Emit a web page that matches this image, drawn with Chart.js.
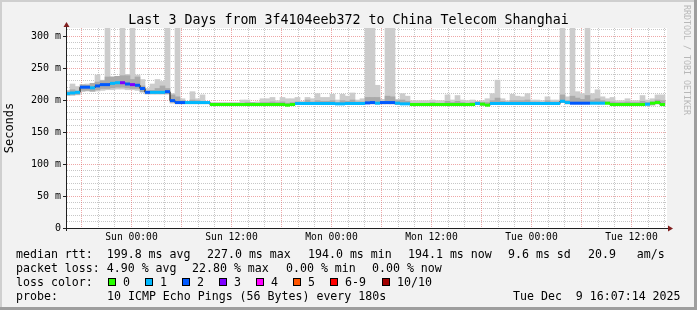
<!DOCTYPE html>
<html><head><meta charset="utf-8">
<script src="https://cdn.jsdelivr.net/npm/chart.js@4/dist/chart.umd.min.js"></script>
<style>html,body{margin:0;padding:0;background:#f2f2f2;}canvas{display:block;}</style>
</head><body>
<canvas id="c" width="697" height="310" style="width:697px;height:310px"></canvas>
<script>
const chartTitle = 'Last 3 Days from 3f4104eeb372 to China Telecom Shanghai';
// time axis: hours relative to Sun 00:00, one consolidated block every 0.6 h (36 min)
const startHour = -7.68;
const stepHours = 0.6;
const axisMinHour = -7.74;
const axisMaxHour = 64.26;

// median RTT per block (ms)
const median = [
 210,211,212,220,220,219,222,224,224,226,
 227,227,225,224,223,218,212,212,212,212,
 213,199,196,196,196,196,196,196,196,193,
 193,193,193,193,193,193,193,193,193,193,
 193,193,193,193,192,193,194.5,194.5,194.5,194.5,
 194.5,194.5,194.5,194.5,194,194,194.5,194.5,194.5,194.5,
 195.5,196,195,196,196,196,195,194,194,193,
 193,193,193,193,193,193,193,193,193,193,
 193,193,194.5,193.5,192,194.5,194.5,194.5,194.5,194.5,
 194.5,194.5,194.5,194.5,194.5,194.5,194.5,194.5,194.5,198,
 196,195,195,195,195,195,195,195,195,193,
 193,193,193,193,193,193,193.5,195,196,193
];
// loss class per block (index into lossColors)
const loss = [
 1,1,1,2,2,1,2,2,2,1,
 1,3,2,3,2,2,2,1,1,1,
 2,2,2,2,1,1,1,1,1,0,
 0,0,0,0,0,0,0,0,0,0,
 0,0,0,0,0,0,1,1,1,1,
 1,1,1,1,1,1,1,1,1,1,
 2,2,1,2,2,2,1,1,1,0,
 0,0,0,0,0,0,0,0,0,0,
 0,0,1,0,0,1,1,1,1,1,
 1,1,1,1,1,1,1,1,1,1,
 1,2,2,2,2,1,1,1,0,0,
 0,0,0,0,0,0,1,0,0,0
];
// light smoke band (min .. max of pings)
const smokeLo = [
 207,207,208,213,214,213,214,215,216,216,
 217,217,216,216,215,212,209,209,209,209,
 209,195,194,194,194,194,194,194,194,192,
 192,192,192,192,192,192,192,192,192,192,
 192,192,192,192,191,192,193,193,193,193,
 193,193,193,193,193,193,193,193,193,193,
 194,194,194,194,194,194,193,193,193,192,
 192,192,192,192,192,192,192,192,192,192,
 192,192,193,192,191,193,193,193,193,193,
 193,193,193,193,193,193,193,193,193,196,
 194,194,194,194,194,194,194,194,194,192,
 192,192,192,192,192,192,192,193,194,192
];
const smokeHi = [
 215,225,221,218,225,221,239,231,312,236,
 236,312,240,312,239,232,218,225,232,229,
 312,210,312,202,198,213,202,208,197,196,
 196,196,196,196,196,200,200,196,197,202,
 202,204,199,204,202,202,204,198,204,202,
 210,204,204,209,200,209,206,211,200,202,
 312,312,223,201,312,312,201,210,206,199,
 199,199,199,200,199,199,208,200,207,200,
 199,200,198,199,202,210,231,202,199,209,
 206,205,210,200,200,199,205,200,200,312,
 205,312,213,210,312,210,216,205,202,204,
 199,199,202,199,199,207,200,202,208,208
];
// darker smoke band (inner pings)
const darkLo = [
 208,209,209,215,215,214,216,218,218,219,
 220,220,219,218,218,213,210,210,210,210,
 210,197,195,195,195,195,195,195,195,192,
 192,192,192,192,192,192,192,192,192,192,
 192,192,192,192,191,192,193,193,193,193,
 193,193,193,193,193,193,193,193,193,193,
 194,194,194,194,194,194,193,193,193,192,
 192,192,192,192,192,192,192,192,192,192,
 192,192,193,192,191,193,193,193,193,193,
 193,193,193,193,193,193,193,193,193,196,
 194,194,194,194,194,194,194,194,194,192,
 192,192,192,192,192,192,192,192,194,192
];
const darkHi = [
 213,216,214,224,223,226,228,230,236,236,
 237,238,238,232,236,222,214,215,218,222,
 218,208,205,199,198,200,199,198,197,195,
 195,195,195,195,195,195,196,196,195,196,
 196,197,196,197,195,196,197,196,200,197,
 199,198,198,199,196,199,198,200,197,197,
 204,204,204,198,206,205,199,200,198,195,
 195,195,195,196,195,195,198,196,198,196,
 195,196,197,196,196,199,203,198,197,199,
 199,199,200,197,197,196,199,197,197,208,
 199,206,203,201,207,200,202,199,197,197,
 196,196,197,196,196,198,196,197,200,199
];

const lossColors = ['#26ff00','#00b8ff','#0059ff','#7e00ff','#ff00ff','#ff5500','#ff0000','#a10000'];
const lossLabels = ['0','1','2','3','4','5','6-9','10/10'];
const xTickHours = [0,12,24,36,48,60];
const xTickLabels = ['Sun 00:00','Sun 12:00','Mon 00:00','Mon 12:00','Tue 00:00','Tue 12:00'];
const yTickValues = [0,50,100,150,200,250,300];
const yTickLabels = ['0','50 m','100 m','150 m','200 m','250 m','300 m'];
const xMinorStep = 2, xMajorStep = 6, yMinorStep = 10, yMajorStep = 50;

const rttStats = ['median rtt:  199.8 ms avg','227.0 ms max','194.0 ms min','194.1 ms now','9.6 ms sd','20.9   am/s'];
const lossStats = ['packet loss: 4.90 % avg','22.80 % max','0.00 % min','0.00 % now'];
const probeText = ['probe:','10 ICMP Echo Pings (56 Bytes) every 180s','Tue Dec  9 16:07:14 2025'];

const hours = median.map((_, i) => startHour + stepHours * i);
const medianPts = median.map((v, i) => ({x: hours[i], y: v}));
const lightPts = smokeLo.map((v, i) => ({x: hours[i], y: [v, smokeHi[i]]}));
const darkPts = darkLo.map((v, i) => ({x: hours[i], y: [v, darkHi[i]]}));

const MONO = 'DejaVu Sans Mono';
const minorGrid = 'rgba(143,143,143,0.5)';
const majorGrid = 'rgba(222,79,79,0.5)';

const frame = {
  id: 'frame',
  beforeDraw(chart) {
    const ctx = chart.ctx, W = chart.width, H = chart.height, a = chart.chartArea;
    ctx.save();
    ctx.fillStyle = '#f2f2f2'; ctx.fillRect(0, 0, W, H);
    ctx.fillStyle = '#cfcfcf'; ctx.fillRect(0, 0, W, 2); ctx.fillRect(0, 0, 2, H);
    ctx.fillStyle = '#9e9e9e'; ctx.fillRect(0, H - 3, W, 3); ctx.fillRect(W - 3, 0, 3, H);
    ctx.fillStyle = '#ffffff'; ctx.fillRect(a.left, a.top, a.right - a.left, a.bottom - a.top);
    ctx.restore();
  },
  beforeDatasetsDraw(chart) {
    const ctx = chart.ctx, a = chart.chartArea, xs = chart.scales.x, ys = chart.scales.y;
    ctx.save();
    ctx.lineWidth = 1;
    ctx.setLineDash([1, 1]);
    for (let v = yMinorStep; v <= ys.max; v += yMinorStep) {
      const py = Math.floor(ys.getPixelForValue(v)) + 0.5;
      ctx.strokeStyle = (v % yMajorStep === 0) ? majorGrid : minorGrid;
      ctx.beginPath(); ctx.moveTo(a.left, py); ctx.lineTo(a.right, py); ctx.stroke();
    }
    const h0 = Math.ceil(xs.min / xMinorStep) * xMinorStep;
    for (let h = h0; h <= xs.max; h += xMinorStep) {
      const px = Math.floor(xs.getPixelForValue(h)) + 0.5;
      ctx.strokeStyle = (h % xMajorStep === 0) ? majorGrid : minorGrid;
      ctx.beginPath(); ctx.moveTo(px, a.top); ctx.lineTo(px, a.bottom); ctx.stroke();
    }
    ctx.restore();
  },
  afterDatasetsDraw(chart) {
    const ctx = chart.ctx, a = chart.chartArea;
    ctx.save();
    ctx.strokeStyle = '#1f1f1f'; ctx.lineWidth = 1;
    ctx.beginPath();
    ctx.moveTo(a.left - 0.5, a.bottom + 3); ctx.lineTo(a.left - 0.5, a.top - 3);
    ctx.moveTo(a.left - 4, a.bottom + 0.5); ctx.lineTo(a.right + 2, a.bottom + 0.5);
    ctx.stroke();
    ctx.fillStyle = '#801f1f';
    ctx.beginPath();
    ctx.moveTo(a.left - 3.5, a.top - 1); ctx.lineTo(a.left + 2.5, a.top - 1); ctx.lineTo(a.left - 0.5, a.top - 6); ctx.closePath(); ctx.fill();
    ctx.beginPath();
    ctx.moveTo(a.right + 1, a.bottom - 2.5); ctx.lineTo(a.right + 1, a.bottom + 3.5); ctx.lineTo(a.right + 6, a.bottom + 0.5); ctx.closePath(); ctx.fill();
    ctx.restore();
  },
  afterDraw(chart) {
    const ctx = chart.ctx, W = chart.width;
    ctx.save();
    ctx.fillStyle = '#000';
    ctx.textBaseline = 'alphabetic';
    ctx.font = '13.3px "' + MONO + '"';
    ctx.textAlign = 'center';
    ctx.fillText(chartTitle, W / 2, 23.5);
    ctx.textAlign = 'left';
    ctx.font = '11.6px "' + MONO + '"';
    const r1x = [16,207,308,408,508,588];
    rttStats.forEach((t, i) => ctx.fillText(t, r1x[i], 258));
    const r2x = [16,192,286,372];
    lossStats.forEach((t, i) => ctx.fillText(t, r2x[i], 272));
    ctx.fillText('loss color:', 16, 286);
    const sqx = [108,145,182,219,256,293,330,382];
    lossLabels.forEach((t, i) => {
      ctx.fillStyle = lossColors[i];
      ctx.fillRect(sqx[i], 278, 8, 8);
      ctx.strokeStyle = '#000'; ctx.lineWidth = 1;
      ctx.strokeRect(sqx[i] + 0.5, 278.5, 7, 7);
      ctx.fillStyle = '#000';
      ctx.fillText(t, sqx[i] + 15, 286);
    });
    const r4x = [16,107,513];
    probeText.forEach((t, i) => ctx.fillText(t, r4x[i], 300));
    ctx.translate(686, 5);
    ctx.rotate(Math.PI / 2);
    ctx.fillStyle = '#b8b8b8';
    ctx.font = '8.3px "' + MONO + '"';
    ctx.textBaseline = 'middle';
    ctx.fillText('RRDTOOL / TOBI OETIKER', 0, 0);
    ctx.restore();
  }
};

const barCommon = {type: 'bar', grouped: false, barPercentage: 1, categoryPercentage: 1, borderWidth: 0};

new Chart(document.getElementById('c'), {
  type: 'bar',
  data: {
    datasets: [
      {type: 'line', label: 'median', data: medianPts, showLine: false, pointStyle: 'line',
       pointRadius: 2.5, pointHoverRadius: 2.5, pointBorderWidth: 3,
       pointBorderColor: loss.map(c => lossColors[c]), order: 1},
      {type: 'line', label: 'step', data: medianPts, stepped: 'middle', borderColor: '#000',
       borderWidth: 1, pointRadius: 0, order: 2},
      Object.assign({label: 'smoke-dark', data: darkPts, backgroundColor: '#aaaaaa', order: 3}, barCommon),
      Object.assign({label: 'smoke-light', data: lightPts, backgroundColor: '#cccccc', order: 4}, barCommon)
    ]
  },
  options: {
    responsive: false,
    animation: false,
    events: [],
    layout: {padding: {top: 28, right: 30, left: 0, bottom: 0}},
    plugins: {legend: {display: false}, tooltip: {enabled: false}, title: {display: false}},
    scales: {
      x: {
        type: 'linear', min: axisMinHour, max: axisMaxHour, offset: false,
        afterBuildTicks: s => { s.ticks = xTickHours.map(v => ({value: v})); },
        afterFit: s => { s.height = 82; },
        ticks: {autoSkip: false, maxRotation: 0, minRotation: 0, padding: 4, color: '#000',
          font: {family: MONO, size: 9.7},
          callback: v => { const i = xTickHours.indexOf(v); return i >= 0 ? xTickLabels[i] : ''; }},
        grid: {drawOnChartArea: false, drawTicks: false},
        border: {display: false}
      },
      y: {
        min: 0, max: 312.5,
        afterBuildTicks: s => { s.ticks = yTickValues.map(v => ({value: v})); },
        afterFit: s => { s.width = 67; },
        ticks: {autoSkip: false, padding: 2, color: '#000', font: {family: MONO, size: 10},
          callback: v => { const i = yTickValues.indexOf(v); return i >= 0 ? yTickLabels[i] : ''; }},
        grid: {drawOnChartArea: false, tickLength: 4, drawTicks: true, tickColor: '#1f1f1f'},
        border: {display: false},
        title: {display: true, text: 'Seconds', color: '#000', font: {family: MONO, size: 12}, padding: {top: 3, bottom: 0}}
      }
    }
  },
  plugins: [frame]
});
</script>
</body></html>
